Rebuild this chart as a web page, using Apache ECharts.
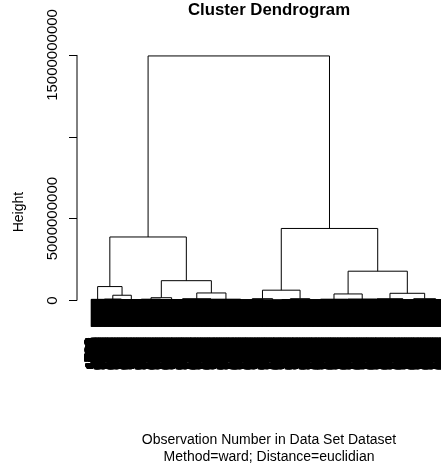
<!DOCTYPE html>
<html>
<head>
<meta charset="utf-8">
<title>Cluster Dendrogram</title>
<script src="https://cdn.jsdelivr.net/npm/echarts@6/dist/echarts.min.js"></script>
<style>
  html, body { margin: 0; padding: 0; background: #ffffff; }
  #chart { width: 441px; height: 468px; }
</style>
</head>
<body>
<div id="chart"></div>
<script>
  // bottom level clusters, left to right: number of leaves and merge height
  const groupLeafCounts = [55, 73, 83, 83, 91, 121, 125, 97, 75, 74, 90, 114, 124, 110, 90, 95]
  const groupHeights = [0.07e9, 0.09e9, 0.06e9, 0.08e9, 0.06e9, 0.1e9, 0.08e9, 0.05e9,
    0.04e9, 0.06e9, 0.05e9, 0.08e9, 0.09e9, 0.1e9, 0.05e9, 0.06e9]

  // merges like hclust$merge: -k = bottom cluster k, m = merge row m
  const mergeLeft = [-4, -2, -8, -10, -15, -12, -14, -6, 3, -1, 1, 6, 10, 9, 13]
  const mergeRight = [-5, -3, -9, -11, -16, -13, 5, -7, 4, 2, 8, 7, 11, 12, 14]
  const mergeHeight = [0.17e9, 0.32e9, 0.11e9, 0.11e9, 0.11e9, 0.40e9, 0.44e9, 0.46e9,
    0.63e9, 0.85e9, 1.21e9, 1.79e9, 3.88e9, 4.40e9, 14.94e9]

  const hangHeight = 1.6e9

  const yTickValues = [0, 5e9, 1e10, 1.5e10]
  const yLabelValues = [0, 5e9, 1.5e10]
  const yLabelTexts = ['0', '5000000000', '15000000000']

  const font = 'Liberation Sans'

  // leaf positions 1..n as in plot.hclust
  const n = groupLeafCounts.reduce((a, b) => a + b, 0)
  const xMin = 1 - 0.04 * (n - 1)
  const xMax = n + 0.04 * (n - 1)

  const segments = []
  const leafLabels = []
  const groupX = []
  let pos = 1
  groupLeafCounts.forEach((cnt, g) => {
    const first = pos
    const last = pos + cnt - 1
    for (let i = first; i <= last; i++) {
      segments.push([i, groupHeights[g], i, -hangHeight])
      // observation numbers are unreadable in the source: fixed shuffle of 1..n
      leafLabels.push([i, -hangHeight, ((i - 1) * 737) % n + 1])
    }
    segments.push([first, groupHeights[g], last, groupHeights[g]])
    groupX.push((first + last) / 2)
    pos = last + 1
  })

  const mergeX = []
  const nodeX = (r) => (r < 0 ? groupX[-r - 1] : mergeX[r - 1])
  const nodeH = (r) => (r < 0 ? groupHeights[-r - 1] : mergeHeight[r - 1])
  mergeHeight.forEach((h, m) => {
    const a = mergeLeft[m]
    const b = mergeRight[m]
    const xa = nodeX(a)
    const xb = nodeX(b)
    segments.push([xa, nodeH(a), xa, h], [xa, h, xb, h], [xb, h, xb, nodeH(b)])
    mergeX.push((xa + xb) / 2)
  })

  const chart = echarts.init(document.getElementById('chart'))
  chart.setOption({
    animation: false,
    backgroundColor: '#ffffff',
    title: [
      {
        text: 'Cluster Dendrogram',
        left: 269,
        top: 2,
        textAlign: 'center',
        padding: 0,
        textStyle: { fontFamily: font, fontSize: 16.8, fontWeight: 'bold', color: '#000' },
      },
      {
        text: 'Observation Number in Data Set Dataset',
        subtext: 'Method=ward; Distance=euclidian',
        left: 269,
        top: 431.5,
        textAlign: 'center',
        padding: 0,
        itemGap: 0,
        textStyle: { fontFamily: font, fontSize: 14, fontWeight: 'normal', color: '#000', lineHeight: 17 },
        subtextStyle: { fontFamily: font, fontSize: 14, color: '#000', lineHeight: 17 },
      },
    ],
    grid: { left: 77, top: 38.6, width: 384, height: 347, outerBoundsMode: 'none' },
    xAxis: { type: 'value', min: xMin, max: xMax, show: false },
    yAxis: {
      type: 'value',
      min: -5.2e9,
      max: 1.6e10,
      name: 'Height',
      nameLocation: 'middle',
      nameRotate: 90,
      nameGap: 51,
      nameTextStyle: { fontFamily: font, fontSize: 14, color: '#000' },
      axisLine: { show: false, onZero: false },
      axisTick: { show: true, length: 8, customValues: yTickValues, lineStyle: { color: '#000', width: 1 } },
      axisLabel: {
        rotate: 90,
        margin: 16.5,
        customValues: yLabelValues,
        formatter: (v) => yLabelTexts[yLabelValues.indexOf(v)],
        fontFamily: font,
        fontSize: 15,
        color: '#000',
      },
      splitLine: { show: false },
    },
    series: [
      {
        // y axis line, only over the tick range
        type: 'line',
        data: [[xMin, yTickValues[0]], [xMin, yTickValues[yTickValues.length - 1]]],
        symbol: 'none',
        silent: true,
        lineStyle: { color: '#000', width: 1 },
      },
      {
        type: 'custom',
        coordinateSystem: 'cartesian2d',
        data: segments,
        encode: { x: [0, 2], y: [1, 3] },
        silent: true,
        renderItem: (params, api) => {
          const p1 = api.coord([api.value(0), api.value(1)])
          const p2 = api.coord([api.value(2), api.value(3)])
          return {
            type: 'line',
            shape: { x1: p1[0], y1: p1[1], x2: p2[0], y2: p2[1] },
            style: { stroke: '#000', lineWidth: 1 },
          }
        },
      },
      {
        type: 'custom',
        coordinateSystem: 'cartesian2d',
        data: leafLabels,
        encode: { x: 0, y: 1 },
        silent: true,
        renderItem: (params, api) => {
          const p = api.coord([api.value(0), api.value(1)])
          return {
            type: 'text',
            x: p[0],
            y: p[1] + 11.5,
            rotation: Math.PI / 2,
            style: {
              text: String(api.value(2)),
              fill: '#000',
              stroke: '#000',
              lineWidth: 2,
              font: '14px "Liberation Sans"',
              align: 'right',
              textAlign: 'right',
              verticalAlign: 'middle',
              textVerticalAlign: 'middle',
            },
          }
        },
      },
    ],
  })
  window.onresize = function () {
    chart.resize()
  }
</script>
</body>
</html>
